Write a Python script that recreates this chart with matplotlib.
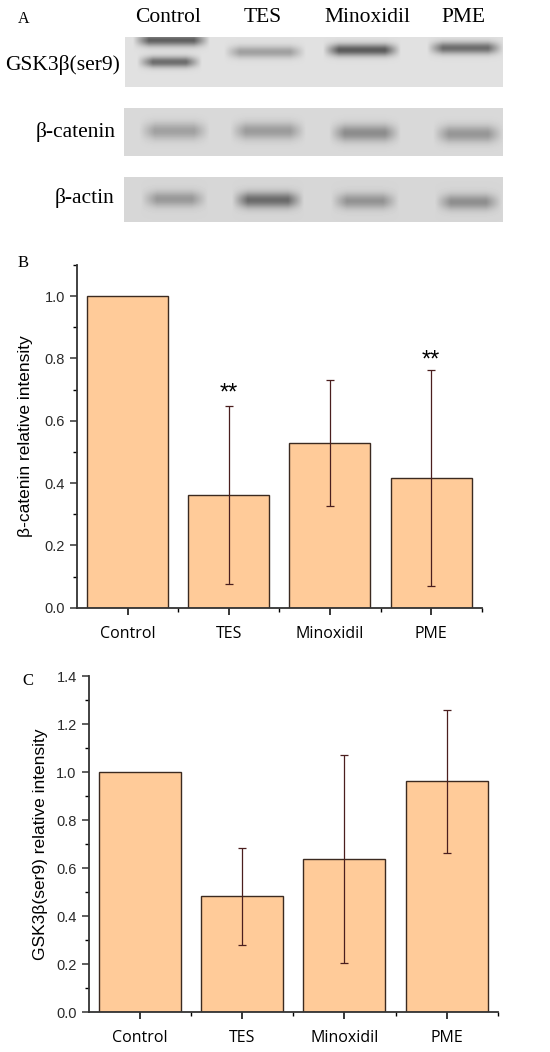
import numpy as np
import matplotlib
matplotlib.use('Agg')
from matplotlib import pyplot as plt
from matplotlib.ticker import MultipleLocator, FixedLocator

# ---- data ----
groups = ['Control', 'TES', 'Minoxidil', 'PME']

catenin_mean = [1.0, 0.362, 0.529, 0.417]
catenin_err = [0.0, 0.286, 0.203, 0.347]
catenin_marks = ['', '**', '', '**']
catenin_mark_y = [0.0, 0.70, 0.0, 0.805]

gsk_mean = [1.0, 0.483, 0.640, 0.961]
gsk_err = [0.0, 0.203, 0.433, 0.297]

blot_rows = ['GSK3β(ser9)', 'β-catenin', 'β-actin']
# band darkness per lane (0 = none)
gsk_band = [0.50, 0.25, 0.52, 0.45]
gsk_band_low = [0.45, 0.0, 0.0, 0.0]
catenin_band = [0.22, 0.24, 0.30, 0.26]
actin_band = [0.24, 0.42, 0.26, 0.28]

# ---- layout (pixels of the 550x1052 picture) ----
W, H = 550, 1052
bar_color = '#FFCB99'
edge_color = '#3b2a20'
err_color = '#4a1e1e'
axis_color = '#333333'

lane_x = [(133, 210), (224, 306), (323, 401), (427, 504)]
lane_label_x = [168, 263, 367, 463]


def strip_image(x0, x1, y0, y1, bg, bands):
    xs = np.arange(x0, x1) + 0.5
    ys = np.arange(y0, y1) + 0.5
    X, Y = np.meshgrid(xs, ys)
    img = np.full(X.shape, bg)
    for (xa, xb, yc, sy, d) in bands:
        if d <= 0:
            continue
        win = np.clip((X - xa) / 16, 0, 1) * np.clip((xb - X) / 16, 0, 1)
        img -= d * win * np.exp(-0.5 * ((Y - yc) / sy) ** 2)
    return np.clip(img, 0, 1)


fig = plt.figure(figsize=(W / 100, H / 100), dpi=100)

# overlay axes in pixel coordinates for blots and free text
ov = fig.add_axes([0, 0, 1, 1])
ov.axis('off')

serif = 'Liberation Serif'
sans = 'Liberation Sans'

strips = [
    (125, 503, 37, 87, 0.88,
     [(lane_x[i][0], lane_x[i][1], [40, 52, 50, 48][i], 4.2, gsk_band[i]) for i in range(4)] +
     [(lane_x[i][0] + 4, lane_x[i][1] - 8, 62, 3.8, gsk_band_low[i]) for i in range(4)]),
    (124, 503, 108, 156, 0.85,
     [(lane_x[i][0] + 6, lane_x[i][1], [131, 131, 133, 134][i], 6.0, catenin_band[i]) for i in range(4)]),
    (124, 503, 177, 222, 0.84,
     [(lane_x[i][0] + 8, lane_x[i][1] - 2, [199, 200, 201, 202][i], 5.5, actin_band[i]) for i in range(4)]),
]
for (x0, x1, y0, y1, bg, bands) in strips:
    img = strip_image(x0, x1, y0, y1, bg, bands)
    ov.imshow(img, cmap='gray', vmin=0, vmax=1, extent=(x0, x1, y1, y0),
              interpolation='bilinear', aspect='auto')

ov.set_xlim(0, W)
ov.set_ylim(H, 0)

ov.text(18, 19, 'A', family=serif, fontsize=11.5, ha='left', va='center')
for lx, g in zip(lane_label_x, groups):
    ov.text(lx, 17, g, family=serif, fontsize=15.5, ha='center', va='center')
ov.text(63, 65, blot_rows[0], family=serif, fontsize=15.5, ha='center', va='center')
ov.text(116, 132, blot_rows[1], family=serif, fontsize=15.5, ha='right', va='center')
ov.text(114, 198, blot_rows[2], family=serif, fontsize=15.5, ha='right', va='center')

ov.text(23, 263, 'B', family=serif, fontsize=12, ha='center', va='center')
ov.text(28, 681, 'C', family=serif, fontsize=12, ha='center', va='center')

ov.text(26, 436, 'β-catenin relative intensity', family=sans, fontsize=12.5,
        rotation=90, ha='center', va='center')
ov.text(41, 844, 'GSK3β(ser9) relative intensity', family=sans, fontsize=12.5,
        rotation=90, ha='center', va='center')


def bar_panel(rect, means, errs, ymax, ystep):
    ax = fig.add_axes(rect)
    x = np.arange(len(groups))
    ax.bar(x, means, width=0.8, color=bar_color, edgecolor=edge_color, linewidth=1.0)
    with_err = [i for i in x if errs[i] > 0]
    ax.errorbar([x[i] for i in with_err], [means[i] for i in with_err],
                yerr=[errs[i] for i in with_err], fmt='none', ecolor=err_color,
                elinewidth=0.9, capsize=3, capthick=0.9)
    ax.set_xlim(-0.5, 3.5)
    ax.set_ylim(0, ymax)
    ax.set_xticks(x)
    ax.set_xticklabels(groups, family='Open Sans', fontsize=11.5)
    ax.xaxis.set_minor_locator(FixedLocator([0.5, 1.5, 2.5, 3.5]))
    ax.yaxis.set_major_locator(MultipleLocator(ystep))
    ax.yaxis.set_minor_locator(MultipleLocator(ystep / 2))
    ax.yaxis.set_major_formatter(lambda v, p: f'{v:.1f}')
    for lab in ax.get_yticklabels():
        lab.set_family(sans)
    ax.tick_params(axis='y', labelsize=10.5, colors=axis_color, labelcolor='#2a2a2a')
    ax.tick_params(axis='both', which='major', direction='out', length=5, width=1.1)
    ax.tick_params(axis='both', which='minor', direction='out', length=3, width=1.0)
    ax.tick_params(axis='x', which='major', pad=8)
    for s in ['top', 'right']:
        ax.spines[s].set_visible(False)
    for s in ['left', 'bottom']:
        ax.spines[s].set_linewidth(1.3)
        ax.spines[s].set_color(axis_color)
    return ax


axB = bar_panel([77 / W, 1 - 607.7 / H, (481.7 - 77) / W, (607.7 - 265) / H],
                catenin_mean, catenin_err, 1.1, 0.2)
for i, (m, yv) in enumerate(zip(catenin_marks, catenin_mark_y)):
    if m:
        axB.text(i, yv - 0.012, m, ha='center', va='center', fontsize=17, family=sans)

axC = bar_panel([88.5 / W, 1 - 1012.3 / H, (498 - 88.5) / W, (1012.3 - 676) / H],
                gsk_mean, gsk_err, 1.4, 0.2)

fig.savefig('out.png', dpi=100)
